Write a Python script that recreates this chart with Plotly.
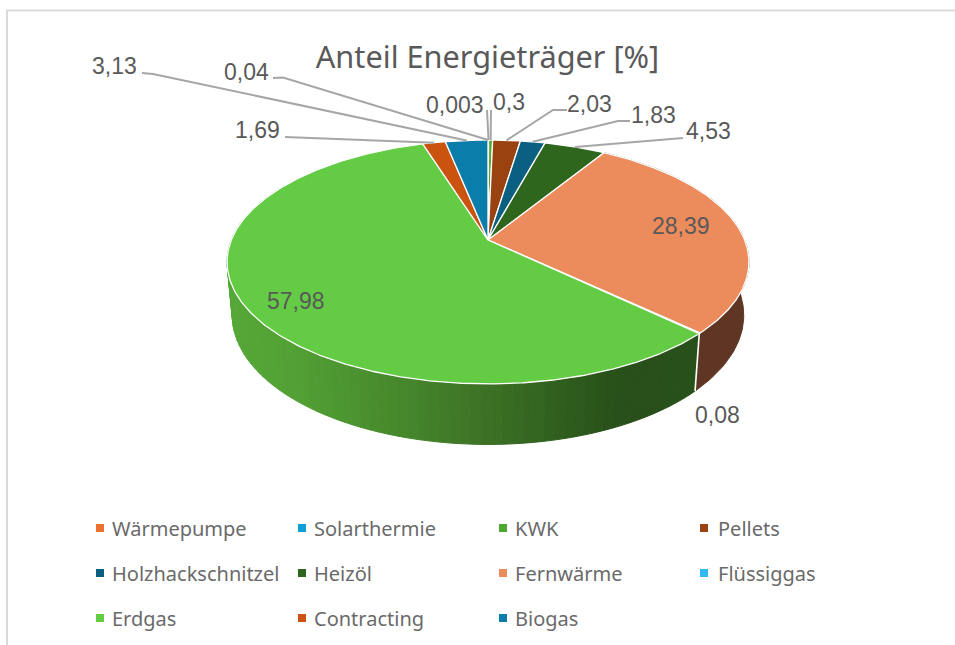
import math
import plotly.graph_objects as go

# --- data (clockwise from 12 o'clock) ---
categories = ["Wärmepumpe", "Solarthermie", "KWK", "Pellets", "Holzhackschnitzel", "Heizöl",
              "Fernwärme", "Flüssiggas", "Erdgas", "Contracting", "Biogas"]
values = [0.04, 0.003, 0.3, 2.03, 1.83, 4.53, 28.39, 0.08, 57.98, 1.69, 3.13]
value_labels = ["0,04", "0,003", "0,3", "2,03", "1,83", "4,53", "28,39", "0,08", "57,98", "1,69", "3,13"]
title_text = "Anteil Energieträger [%]"

# --- styles ---
top_colors = ["#E97132", "#0F9ED5", "#4EA72E", "#9A4311", "#0B5F80", "#2F661D",
              "#EC8C5C", "#33B9EE", "#64CB45", "#C9530F", "#0B7DAB"]
wall_solid = {"Fernwärme": "#5F3623"}
erdgas_wall_stops = [(230, (0x55, 0xA8, 0x38)), (300, (0x52, 0xA0, 0x34)), (400, (0x46, 0x88, 0x2C)),
                     (480, (0x3D, 0x73, 0x26)), (560, (0x2F, 0x5E, 0x1E)), (620, (0x28, 0x4F, 0x19)),
                     (700, (0x27, 0x50, 0x1A))]
TEXT = "#595959"
LEADER = "#A6A6A6"

# --- projection of the tilted disc ---
CX, CY = 488.0, 240.0
K, A, B = 0.18, 118.0, 256.7
S_LOW, D_LOW = 0.98, 52.0


def top_pt(deg):
    t = math.radians(deg)
    u, v = math.sin(t), math.cos(t)
    w = 1 + K * v
    return CX + B * u / w, CY - A * v / w


def low_pt(deg):
    t = math.radians(deg)
    u, v = math.sin(t), math.cos(t)
    w = 1 + K * v
    return CX + S_LOW * B * u / w, CY - S_LOW * A * v / w + D_LOW / w


def arc(a0, a1, step=0.5):
    n = max(1, int(math.ceil((a1 - a0) / step)))
    return [a0 + (a1 - a0) * i / n for i in range(n + 1)]


def wall_color(x):
    s = erdgas_wall_stops
    if x <= s[0][0]:
        c = s[0][1]
    elif x >= s[-1][0]:
        c = s[-1][1]
    else:
        for (x0, c0), (x1, c1) in zip(s, s[1:]):
            if x0 <= x <= x1:
                f = (x - x0) / (x1 - x0)
                c = tuple(c0[i] + (c1[i] - c0[i]) * f for i in range(3))
                break
    return "rgb(%d,%d,%d)" % tuple(round(v) for v in c)


total = sum(values)
edges = [0.0]
for val in values:
    edges.append(edges[-1] + val / total * 360.0)

fig = go.Figure()
NOHOVER = dict(hoverinfo="skip", showlegend=False)

# walls
for i, name in enumerate(categories):
    a0, a1 = edges[i], edges[i + 1]
    if name == "Erdgas":
        grid = arc(a0, min(a1, 300), 2.0)
        for g0, g1 in zip(grid, grid[1:]):
            t0, t1, l0, l1 = top_pt(g0), top_pt(g1), low_pt(g0), low_pt(g1)
            col = wall_color((l0[0] + l1[0]) / 2)
            fig.add_trace(go.Scatter(x=[t0[0], t1[0], l1[0], l0[0], t0[0]], y=[t0[1], t1[1], l1[1], l0[1], t0[1]],
                                     mode="lines", fill="toself", fillcolor=col, line=dict(color=col, width=1),
                                     **NOHOVER))
    elif name in wall_solid:
        grid = arc(a0, a1, 1.0)
        pts = [top_pt(g) for g in grid] + [low_pt(g) for g in reversed(grid)]
        pts.append(pts[0])
        col = wall_solid[name]
        fig.add_trace(go.Scatter(x=[p[0] for p in pts], y=[p[1] for p in pts], mode="lines", fill="toself",
                                 fillcolor=col, line=dict(color=col, width=1), **NOHOVER))

# white divider on the wall
div = edges[categories.index("Erdgas")]
t_d, l_d = top_pt(div), low_pt(div)
fig.add_trace(go.Scatter(x=[t_d[0], l_d[0]], y=[t_d[1], l_d[1]], mode="lines",
                         line=dict(color="white", width=1.6), **NOHOVER))

# top faces
for i, name in enumerate(categories):
    pts = [(CX, CY)] + [top_pt(g) for g in arc(edges[i], edges[i + 1])] + [(CX, CY)]
    fig.add_trace(go.Scatter(x=[p[0] for p in pts], y=[p[1] for p in pts], mode="lines", fill="toself",
                             fillcolor=top_colors[i], line=dict(color="white", width=1.3), name=name,
                             hoverinfo="name", showlegend=False))

# leader lines: text-side points, the slice end comes from the data
leader_points = {
    "0,04": [(273, 78), (283, 77.5)],
    "0,003": [(487, 110)],
    "0,3": [(491, 110)],
    "2,03": [(567, 110), (553, 110)],
    "1,83": [(630, 121), (618, 121)],
    "4,53": [(683, 138)],
    "1,69": [(285, 137)],
    "3,13": [(142, 73), (153, 74)],
}
for i, lab in enumerate(value_labels):
    if lab in leader_points:
        end = top_pt((edges[i] + edges[i + 1]) / 2)
        pts = leader_points[lab] + [end]
        fig.add_trace(go.Scatter(x=[p[0] for p in pts], y=[p[1] for p in pts], mode="lines",
                                 line=dict(color=LEADER, width=2), **NOHOVER))

label_pos = {
    "0,04": (246, 72), "0,003": (455, 105), "0,3": (509, 102), "2,03": (589, 104), "1,83": (653, 115),
    "4,53": (708, 131), "28,39": (681, 226), "0,08": (717, 415), "57,98": (296, 301), "1,69": (257, 130),
    "3,13": (114, 66),
}
annotations = [dict(x=label_pos[l][0], y=label_pos[l][1], text=l, showarrow=False, xanchor="center",
                    yanchor="middle", font=dict(family="Liberation Sans", size=23, color=TEXT))
               for l in value_labels]

# legend
legend_marker_cols = [100, 302, 503, 704]
legend_text_cols = [110, 312, 513, 716]
legend_rows = [528, 573, 618]
lx, ly = [], []
for i, name in enumerate(categories):
    lx.append(legend_marker_cols[i % 4])
    ly.append(legend_rows[i // 4])
    annotations.append(dict(x=legend_text_cols[i % 4], y=legend_rows[i // 4], text=name, showarrow=False,
                            xanchor="left", yanchor="middle",
                            font=dict(family="Noto Sans", size=20, color="#6A6A6A")))
fig.add_trace(go.Scatter(x=lx, y=ly, mode="markers",
                         marker=dict(symbol="square", size=8, color=top_colors, line=dict(width=0)), **NOHOVER))

frame = [
    dict(type="line", x0=6, x1=955, y0=10.5, y1=10.5, line=dict(color="#DADADA", width=2)),
    dict(type="line", x0=7, x1=7, y0=10, y1=645, line=dict(color="#DADADA", width=2)),
]

fig.update_layout(
    width=955, height=645, margin=dict(l=0, r=0, t=0, b=0), autosize=False,
    paper_bgcolor="white", plot_bgcolor="white", showlegend=False,
    xaxis=dict(range=[0, 955], visible=False, fixedrange=True),
    yaxis=dict(range=[645, 0], visible=False, fixedrange=True),
    title=dict(text=title_text, x=487.5 / 955, y=1 - 57 / 645, xanchor="center", yanchor="middle",
               font=dict(family="Noto Sans", size=30.7, color=TEXT)),
    annotations=annotations, shapes=frame,
)
fig.write_html("out.html", config={"displayModeBar": False},
               post_script="document.body.style.margin='0';document.body.style.overflow='hidden';")
